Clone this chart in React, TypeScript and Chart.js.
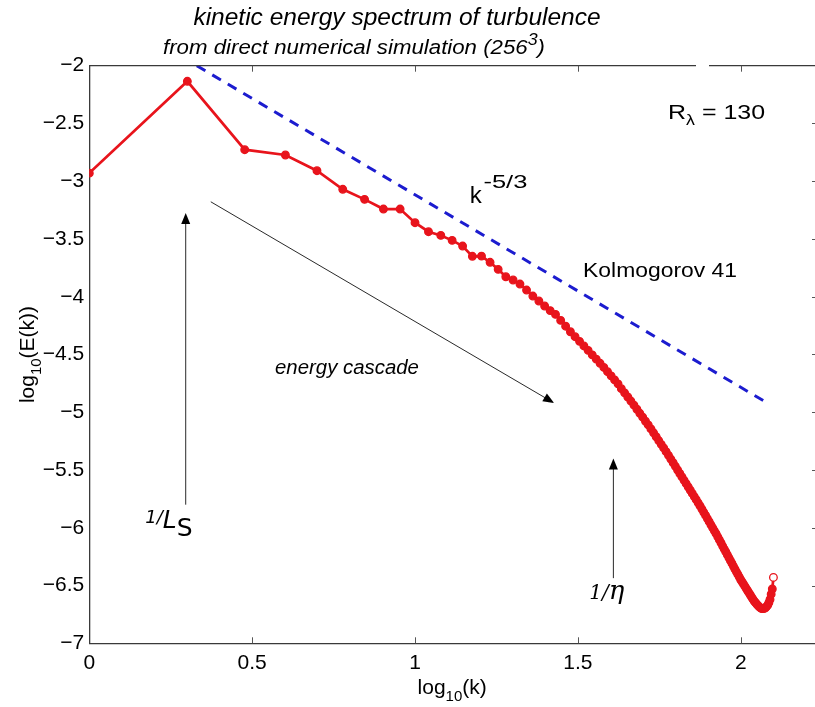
import React, { useEffect, useRef } from 'react';
import { Chart, registerables } from 'chart.js';

Chart.register(...registerables);

// wavenumbers k of the spectrum
const wavenumbers = [
  1, 2, 3, 4, 5, 6, 7, 8, 9, 10, 11, 12, 13, 14, 15, 16, 17, 18, 19, 20,
  21, 22, 23, 24, 25, 26, 27, 28, 29, 30, 31, 32, 33, 34, 35, 36, 37, 38, 39, 40,
  41, 42, 43, 44, 45, 46, 47, 48, 49, 50, 51, 52, 53, 54, 55, 56, 57, 58, 59, 60,
  61, 62, 63, 64, 65, 66, 67, 68, 69, 70, 71, 72, 73, 74, 75, 76, 77, 78, 79, 80,
  81, 82, 83, 84, 85, 86, 87, 88, 89, 90, 91, 92, 93, 94, 95, 96, 97, 98, 99, 100,
  101, 102, 103, 104, 105, 106, 107, 108, 109, 110, 111, 112, 113, 114, 115, 116, 117, 118, 119, 120,
  121, 122, 123, 124, 125, 126,
];

// log10(E(k))
const logEnergy = [
  -2.93, -2.135, -2.727, -2.773, -2.909, -3.07, -3.157, -3.241, -3.241, -3.359,
  -3.437, -3.469, -3.512, -3.561, -3.65, -3.648, -3.702, -3.763, -3.827, -3.855,
  -3.89, -3.942, -3.994, -4.037, -4.08, -4.12, -4.153, -4.205, -4.255, -4.303,
  -4.346, -4.386, -4.426, -4.464, -4.503, -4.54, -4.576, -4.612, -4.649, -4.685,
  -4.72, -4.754, -4.796, -4.832, -4.868, -4.903, -4.938, -4.974, -5.009, -5.043,
  -5.078, -5.11, -5.144, -5.178, -5.212, -5.245, -5.278, -5.309, -5.341, -5.373,
  -5.405, -5.437, -5.468, -5.5, -5.53, -5.56, -5.589, -5.618, -5.647, -5.675,
  -5.703, -5.73, -5.757, -5.784, -5.811, -5.838, -5.866, -5.893, -5.92, -5.947,
  -5.974, -6.0, -6.026, -6.051, -6.078, -6.105, -6.131, -6.158, -6.184, -6.209,
  -6.235, -6.26, -6.285, -6.309, -6.334, -6.358, -6.381, -6.404, -6.427, -6.45,
  -6.469, -6.488, -6.507, -6.526, -6.545, -6.563, -6.582, -6.6, -6.618, -6.635,
  -6.648, -6.661, -6.674, -6.684, -6.693, -6.7, -6.7, -6.698, -6.694, -6.682,
  -6.67, -6.648, -6.62, -6.575, -6.53, -6.43,
];

// Kolmogorov 41 reference line (k^-5/3)
const kolmogorovX = [0.33, 2.075];
const kolmogorovY = [-2.0, -4.909];

const xTickValues = [0, 0.5, 1, 1.5, 2];
const yTickValues = [-2, -2.5, -3, -3.5, -4, -4.5, -5, -5.5, -6, -6.5, -7];

const X_MIN = 0;
const X_MAX = 2.228;
const Y_MIN = -7;
const Y_MAX = -2;

const SANS = '"Liberation Sans", Arial, Helvetica, sans-serif';
const SERIF = '"DejaVu Serif", "Liberation Serif", serif';

type Part = { t: string; size: number; dy?: number; style?: string; family?: string };

function drawParts(
  ctx: CanvasRenderingContext2D,
  parts: Part[],
  x: number,
  y: number,
  align: 'left' | 'center' = 'left',
  fitWidth?: number
) {
  ctx.save();
  ctx.textBaseline = 'alphabetic';
  ctx.textAlign = 'left';
  let total = 0;
  const widths = parts.map((p) => {
    ctx.font = `${p.style || ''} ${p.size}px ${p.family || SANS}`;
    const w = ctx.measureText(p.t).width;
    total += w;
    return w;
  });
  const sx = fitWidth ? fitWidth / total : 1;
  const start = align === 'center' ? x - (total * sx) / 2 : x;
  ctx.translate(start, y);
  ctx.scale(sx, 1);
  let cx = 0;
  parts.forEach((p, i) => {
    ctx.font = `${p.style || ''} ${p.size}px ${p.family || SANS}`;
    ctx.fillText(p.t, cx, p.dy || 0);
    cx += widths[i];
  });
  ctx.restore();
}

function arrow(ctx: CanvasRenderingContext2D, x1: number, y1: number, x2: number, y2: number) {
  const ang = Math.atan2(y2 - y1, x2 - x1);
  const hl = 11;
  const hw = 4.5;
  ctx.save();
  ctx.strokeStyle = '#111';
  ctx.fillStyle = '#000';
  ctx.lineWidth = 0.9;
  ctx.beginPath();
  ctx.moveTo(x1, y1);
  ctx.lineTo(x2 - Math.cos(ang) * hl * 0.8, y2 - Math.sin(ang) * hl * 0.8);
  ctx.stroke();
  ctx.beginPath();
  ctx.moveTo(x2, y2);
  ctx.lineTo(x2 - Math.cos(ang) * hl + Math.sin(ang) * hw, y2 - Math.sin(ang) * hl - Math.cos(ang) * hw);
  ctx.lineTo(x2 - Math.cos(ang) * hl - Math.sin(ang) * hw, y2 - Math.sin(ang) * hl + Math.cos(ang) * hw);
  ctx.closePath();
  ctx.fill();
  ctx.restore();
}

const decorPlugin = {
  id: 'decor',
  beforeDraw(chart: any) {
    const ctx = chart.ctx;
    ctx.save();
    ctx.fillStyle = '#ffffff';
    ctx.fillRect(0, 0, chart.width, chart.height);
    ctx.restore();
  },
  afterDraw(chart: any) {
    const ctx: CanvasRenderingContext2D = chart.ctx;
    const xs = chart.scales.x;
    const ys = chart.scales.y;
    const area = chart.chartArea;
    const px = (v: number) => xs.getPixelForValue(v);
    const py = (v: number) => ys.getPixelForValue(v);

    // top box line (with the small gap of the original) and inward ticks
    ctx.save();
    ctx.strokeStyle = '#3a3a3a';
    ctx.lineWidth = 1.3;
    ctx.beginPath();
    ctx.moveTo(area.left, area.top);
    ctx.lineTo(696, area.top);
    ctx.moveTo(709, area.top);
    ctx.lineTo(area.right, area.top);
    ctx.stroke();
    ctx.lineWidth = 1;
    ctx.strokeStyle = '#555';
    ctx.beginPath();
    xTickValues.slice(1).forEach((v) => {
      const x = Math.round(px(v)) + 0.5;
      ctx.moveTo(x, area.bottom);
      ctx.lineTo(x, area.bottom - 6);
      ctx.moveTo(x, area.top);
      ctx.lineTo(x, area.top + 6);
    });
    yTickValues.slice(1, -1).forEach((v) => {
      const y = Math.round(py(v)) + 0.5;
      ctx.moveTo(area.right, y);
      ctx.lineTo(area.right - 3, y);
    });
    ctx.stroke();
    ctx.restore();

    ctx.save();
    ctx.fillStyle = '#000';
    // titles
    drawParts(ctx, [{ t: 'kinetic energy spectrum of turbulence', size: 24.5, style: 'italic' }], 397, 25, 'center');
    drawParts(
      ctx,
      [
        { t: 'from direct numerical simulation (256', size: 20, style: 'italic' },
        { t: '3', size: 16, dy: -9, style: 'italic' },
        { t: ')', size: 20, style: 'italic' },
      ],
      163,
      54,
      'left',
      382
    );
    // axis titles
    drawParts(
      ctx,
      [
        { t: 'log', size: 21 },
        { t: '10', size: 15, dy: 7 },
        { t: '(k)', size: 21 },
      ],
      (area.left + area.right) / 2,
      694,
      'center'
    );
    ctx.save();
    ctx.translate(34, (area.top + area.bottom) / 2);
    ctx.rotate(-Math.PI / 2);
    drawParts(
      ctx,
      [
        { t: 'log', size: 21 },
        { t: '10', size: 15, dy: 7 },
        { t: '(E(k))', size: 21 },
      ],
      0,
      0,
      'center'
    );
    ctx.restore();

    // annotations (placed in data coordinates)
    drawParts(
      ctx,
      [
        { t: 'R', size: 21 },
        { t: 'λ', size: 15, dy: 6 },
        { t: ' = 130', size: 21 },
      ],
      px(1.777),
      py(-2.465),
      'left',
      97
    );
    drawParts(ctx, [{ t: 'k', size: 24 }], px(1.168), py(-3.19));
    drawParts(ctx, [{ t: '-5/3', size: 19 }], px(1.21), py(-3.06), 'left', 44);
    drawParts(ctx, [{ t: 'Kolmogorov 41', size: 20 }], px(1.516), py(-3.825), 'left', 154);
    drawParts(ctx, [{ t: 'energy cascade', size: 20, style: 'italic' }], px(0.57), py(-4.67), 'left', 144);
    drawParts(
      ctx,
      [
        { t: '1/', size: 18, dy: -5, style: 'italic', family: '"DejaVu Sans", sans-serif' },
        { t: 'L', size: 25, style: 'italic', family: '"DejaVu Sans", sans-serif' },
        { t: 'S', size: 25, dy: 8, family: '"DejaVu Sans", sans-serif' },
      ],
      px(0.172),
      py(-6.0)
    );
    drawParts(
      ctx,
      [
        { t: '1/', size: 20, style: 'italic', family: SERIF },
        { t: 'η', size: 26, style: 'italic', family: SERIF },
      ],
      px(1.535),
      py(-6.62)
    );
    ctx.restore();

    // arrows
    arrow(ctx, px(0.373), py(-3.178), px(1.427), py(-4.92));
    arrow(ctx, px(0.296), py(-5.8), px(0.296), py(-3.275));
    arrow(ctx, px(1.609), py(-6.436), px(1.609), py(-5.4));
  },
};

export default function App() {
  const canvasRef = useRef<HTMLCanvasElement | null>(null);

  useEffect(() => {
    const canvas = canvasRef.current;
    if (!canvas) return;
    const spectrum = wavenumbers.map((k, i) => ({ x: Math.log10(k), y: logEnergy[i] }));
    const kolmogorov = kolmogorovX.map((x, i) => ({ x, y: kolmogorovY[i] }));
    const pointFill = spectrum.map((_, i) => (i === spectrum.length - 1 ? '#ffffff' : '#e8141c'));

    const chart = new Chart(canvas, {
      type: 'line',
      data: {
        datasets: [
          {
            label: 'Kolmogorov 41',
            data: kolmogorov,
            borderColor: '#1c1ccf',
            borderWidth: 3,
            borderDash: [10, 8],
            pointRadius: 0,
            fill: false,
            tension: 0,
          },
          {
            label: 'E(k)',
            data: spectrum,
            borderColor: '#e8141c',
            borderWidth: 2.7,
            pointRadius: 3.8,
            pointBorderWidth: 1.3,
            pointBackgroundColor: pointFill,
            pointBorderColor: '#e8141c',
            fill: false,
            tension: 0,
          },
        ],
      },
      options: {
        responsive: false,
        animation: false,
        devicePixelRatio: 1,
        layout: { autoPadding: false, padding: { top: 65.7, right: 0, left: 0, bottom: 0 } },
        plugins: {
          legend: { display: false },
          tooltip: { enabled: false },
          title: { display: false },
        },
        scales: {
          x: {
            type: 'linear',
            min: X_MIN,
            max: X_MAX,
            afterBuildTicks: (scale: any) => {
              scale.ticks = xTickValues.map((v) => ({ value: v }));
            },
            afterFit: (scale: any) => {
              scale.height = 707 - 643.3;
              scale.paddingLeft = 0;
              scale.paddingRight = 0;
            },
            grid: { display: false, drawTicks: false },
            border: { display: true, color: '#3a3a3a', width: 1.3 },
            ticks: {
              color: '#000',
              padding: 7,
              maxRotation: 0,
              autoSkip: false,
              font: { family: SANS, size: 21 },
              callback: (v: any) => String(v),
            },
          },
          y: {
            type: 'linear',
            min: Y_MIN,
            max: Y_MAX,
            afterBuildTicks: (scale: any) => {
              scale.ticks = yTickValues.map((v) => ({ value: v }));
            },
            afterFit: (scale: any) => {
              scale.width = 89.3;
              scale.paddingTop = 0;
              scale.paddingBottom = 0;
            },
            grid: { display: false, drawTicks: false },
            border: { display: true, color: '#3a3a3a', width: 1.3 },
            ticks: {
              color: '#000',
              padding: 5,
              autoSkip: false,
              font: { family: SANS, size: 21 },
              callback: (v: any) => String(v).replace('-', '\u2212'),
            },
          },
        },
      },
      plugins: [decorPlugin],
    });
    return () => chart.destroy();
  }, []);

  return (
    <div style={{ position: 'absolute', left: 0, top: 0, width: 815, height: 707, background: '#fff' }}>
      <canvas ref={canvasRef} width={815} height={707} style={{ width: 815, height: 707, display: 'block' }} />
    </div>
  );
}
